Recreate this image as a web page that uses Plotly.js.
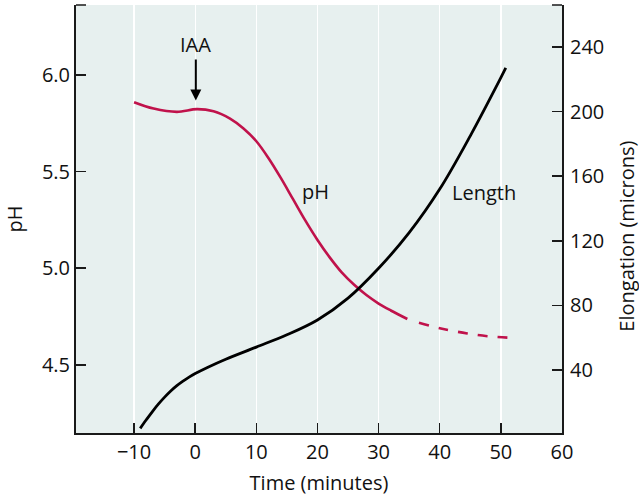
<!DOCTYPE html>
<html>
<head>
<meta charset="utf-8">
<script src="https://cdn.plot.ly/plotly-3.0.1.min.js"></script>
<style>html,body{margin:0;padding:0;background:#fff;}#chart{width:639px;height:496px;}</style>
</head>
<body>
<div id="chart"></div>
<script>
// pH (left axis), solid portion
const phTime = [-10, -6.8, -3, 0.3, 3, 5.7, 7.9, 10, 12, 14, 16, 18, 20, 22, 24, 26, 28, 30, 32, 34.7];
const phValues = [5.859, 5.826, 5.809, 5.823, 5.812, 5.774, 5.723, 5.657, 5.569, 5.467, 5.357, 5.247, 5.146, 5.056, 4.977, 4.914, 4.861, 4.817, 4.781, 4.737];
// pH, dashed extension
const phDashTime = [36.6, 40.2, 44.5, 47.8, 51.9];
const phDashValues = [4.717, 4.688, 4.662, 4.648, 4.639];
// Elongation (right axis, microns)
const lenTime = [-9, -8, -7, -6, -5, -4, -3, -2, -1, 0, 2, 5, 10, 15, 20, 25, 30, 35, 40, 45, 50, 50.8];
const lenValues = [3.9, 9.2, 14.3, 19.0, 23.2, 27.0, 30.3, 33.1, 35.6, 37.8, 41.6, 46.7, 54.2, 61.8, 71, 84.5, 103, 125, 152, 185, 221, 227];
// ticks
const xTicks = [-10, 0, 10, 20, 30, 40, 50, 60];
const xTickText = ["\u221210", "0", "10", "20", "30", "40", "50", "60"];
const phTicks = [4.5, 5.0, 5.5, 6.0];
const phTickText = ["4.5", "5.0", "5.5", "6.0"];
const lenTicks = [40, 80, 120, 160, 200, 240];

const FONT = "Open Sans, Noto Sans, sans-serif";
const FS = 20;
const AX = "#1a1a1a";
const TXT = "#111";
const RED = "#c0124b";

const traces = [
  {x: lenTime, y: lenValues, yaxis: "y2", mode: "lines", line: {color: "#000", width: 2.8, shape: "spline", smoothing: 1}, hoverinfo: "skip"},
  {x: phTime, y: phValues, yaxis: "y", mode: "lines", line: {color: RED, width: 2.6, shape: "spline", smoothing: 1}, hoverinfo: "skip"},
  {x: phDashTime, y: phDashValues, yaxis: "y", mode: "lines", line: {color: RED, width: 2.6, shape: "spline", smoothing: 1, dash: "10px,10px"}, hoverinfo: "skip"}
];

const layout = {
  width: 639, height: 496,
  margin: {l: 76, r: 77, t: 5, b: 63, pad: 0},
  paper_bgcolor: "#ffffff",
  plot_bgcolor: "#e7f0ef",
  showlegend: false,
  font: {family: FONT, size: FS, color: TXT},
  xaxis: {
    range: [-19.5, 60], tickvals: xTicks, ticktext: xTickText,
    ticks: "inside", ticklen: 10, tickwidth: 1.5, tickcolor: AX,
    showline: true, linewidth: 2, linecolor: AX,
    showgrid: true, gridcolor: "#ffffff", gridwidth: 1.3, zeroline: false,
    ticklabelstandoff: 0,
    tickfont: {family: FONT, size: FS, color: TXT},
    title: {text: "Time (minutes)", font: {family: FONT, size: FS, color: TXT}, standoff: 16}
  },
  yaxis: {
    range: [4.147, 6.362], tickvals: phTicks, ticktext: phTickText,
    ticks: "inside", ticklen: 10, tickwidth: 1.5, tickcolor: AX,
    showline: true, linewidth: 2, linecolor: AX,
    showgrid: false, zeroline: false,
    ticklabelstandoff: 0,
    tickfont: {family: FONT, size: FS, color: TXT},
    title: {text: "pH", font: {family: FONT, size: FS, color: TXT}, standoff: 14}
  },
  yaxis2: {
    overlaying: "y", side: "right",
    range: [1.0, 266.0], tickvals: lenTicks,
    ticks: "inside", ticklen: 10, tickwidth: 1.5, tickcolor: AX,
    showline: true, linewidth: 2, linecolor: AX,
    showgrid: false, zeroline: false,
    ticklabelstandoff: 2,
    tickfont: {family: FONT, size: FS, color: TXT}
  },
  shapes: [
    {type: "line", xref: "paper", yref: "paper", x0: 0, x1: 10/486, y0: 1, y1: 1, line: {color: AX, width: 1.5}},
    {type: "line", xref: "paper", yref: "paper", x0: 1 - 10/486, x1: 1, y0: 1, y1: 1, line: {color: AX, width: 1.5}}
  ],
  annotations: [
    {x: 0.1, y: 5.868, xref: "x", yref: "y", text: "IAA", showarrow: true, ax: 0, ay: -56,
     arrowhead: 2, arrowsize: 1.1, arrowwidth: 2, arrowcolor: "#000", standoff: 0,
     font: {family: FONT, size: FS, color: TXT}},
    {x: 19.7, y: 5.398, xref: "x", yref: "y", text: "pH", showarrow: false,
     font: {family: FONT, size: FS, color: TXT}},
    {x: 47.2, y: 5.393, xref: "x", yref: "y", text: "Length", showarrow: false,
     font: {family: FONT, size: FS, color: TXT}},
    {x: 1.1337, y: 0.461, xref: "paper", yref: "paper", text: "Elongation (microns)", showarrow: false,
     textangle: -90, xanchor: "center", yanchor: "middle",
     font: {family: FONT, size: FS, color: TXT}}
  ]
};

Plotly.newPlot("chart", traces, layout, {staticPlot: true, displayModeBar: false});
</script>
</body>
</html>
